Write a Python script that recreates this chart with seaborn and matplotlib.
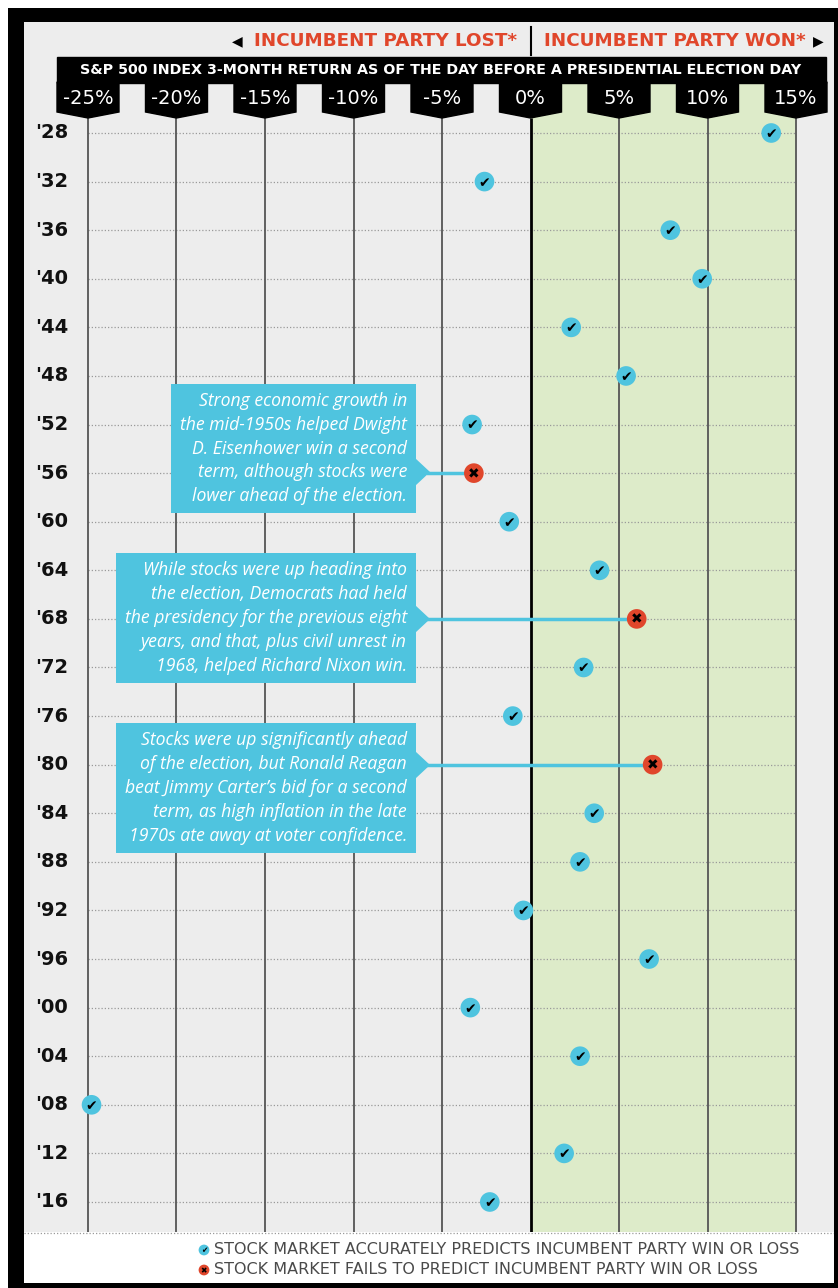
import matplotlib
matplotlib.use("Agg")
import matplotlib.pyplot as plt
from matplotlib.patches import Polygon, Rectangle
import seaborn as sns
import pandas as pd

# Datos
years = ["'28", "'32", "'36", "'40", "'44", "'48", "'52", "'56", "'60", "'64", "'68", "'72",
         "'76", "'80", "'84", "'88", "'92", "'96", "'00", "'04", "'08", "'12", "'16"]
returns = [13.6, -2.6, 7.9, 9.7, 2.3, 5.4, -3.3, -3.2, -1.2, 3.9, 6.0, 3.0,
           -1.0, 6.9, 3.6, 2.8, -0.4, 6.7, -3.4, 2.8, -24.8, 1.9, -2.3]
predicted = ["ok", "ok", "ok", "ok", "ok", "ok", "ok", "fail", "ok", "ok", "fail", "ok",
             "ok", "fail", "ok", "ok", "ok", "ok", "ok", "ok", "ok", "ok", "ok"]
tick_values = [-25, -20, -15, -10, -5, 0, 5, 10, 15]
tick_labels = ["-25%", "-20%", "-15%", "-10%", "-5%", "0%", "5%", "10%", "15%"]
notes = {
    "'56": "Strong economic growth in\nthe mid-1950s helped Dwight\nD. Eisenhower win a second\nterm, although stocks were\nlower ahead of the election.",
    "'68": "While stocks were up heading into\nthe election, Democrats had held\nthe presidency for the previous eight\nyears, and that, plus civil unrest in\n1968, helped Richard Nixon win.",
    "'80": "Stocks were up significantly ahead\nof the election, but Ronald Reagan\nbeat Jimmy Carter\u2019s bid for a second\nterm, as high inflation in the late\n1970s ate away at voter confidence.",
}

df = pd.DataFrame({"year": years, "ret": returns, "status": predicted})
df["row"] = range(len(df))

BLUE = "#4fc4df"
RED = "#e0462b"
GRAY_BG = "#ededed"
GREEN = "#ddebc9"

W, H = 838, 1288
fig = plt.figure(figsize=(W / 100, H / 100), dpi=100)
fig.patch.set_facecolor("white")

# Marco negro
frame = fig.add_axes([8 / W, 0, 1 - 8 / W, 1 - 8 / H])
frame.set_facecolor("black")
frame.set_xticks([]); frame.set_yticks([])
for s in frame.spines.values():
    s.set_visible(False)

ax = fig.add_axes([24 / W, 1 - 1232 / H, (834 - 24) / W, (1232 - 22) / H])
ax.set_facecolor(GRAY_BG)
for s in ax.spines.values():
    s.set_visible(False)

PX_PER_PCT = 17.7
ROW_PX = 48.59


def dx(px):
    return -25 + (px - 88) / PX_PER_PCT


def dy(py):
    return (py - 133) / ROW_PX


ax.set_xlim(dx(24), dx(834))
ax.set_ylim(dy(1232), dy(22))
ax.set_xticks([]); ax.set_yticks([])

# zona verde (ganó el partido)
ax.axvspan(0, 15, ymin=0, ymax=(1232 - 83) / (1232 - 22), color=GREEN, lw=0, zorder=0)

# filas punteadas
ax.hlines(df["row"], tick_values[0], tick_values[-1], colors="#9a9a9a",
          linestyles=(0, (1, 1.6)), lw=0.9, zorder=1)
# lineas verticales
for t in tick_values:
    ax.vlines(t, dy(118), dy(1232), colors="black" if t == 0 else "#555555",
              lw=2 if t == 0 else 1.3, zorder=2)

# cabecera
ax.add_patch(Rectangle((dx(57), dy(57)), dx(826) - dx(57), dy(83) - dy(57),
                       color="black", clip_on=False, zorder=5))
ax.text(dx(441), dy(70), "S&P 500 INDEX 3-MONTH RETURN AS OF THE DAY BEFORE A PRESIDENTIAL ELECTION DAY",
        color="white", fontsize=10.3, fontweight="bold", ha="center", va="center", zorder=6)
half = 31 / PX_PER_PCT
for t, lab in zip(tick_values, tick_labels):
    poly = [(t - half, dy(82)), (t + half, dy(82)), (t + half, dy(112)),
            (t, dy(118)), (t - half, dy(112))]
    ax.add_patch(Polygon(poly, closed=True, color="black", clip_on=False, zorder=5))
    ax.text(t, dy(98), lab, color="white", fontsize=14, ha="center", va="center", zorder=6)

ax.plot([0, 0], [dy(27), dy(55)], color="black", lw=1.5, clip_on=False)
ax.text(dx(517), dy(41), "INCUMBENT PARTY LOST*", color=RED, fontsize=13.2,
        fontweight="bold", ha="right", va="center")
ax.text(dx(237), dy(41), "\u25c0", color="black", fontsize=10, ha="center", va="center")
ax.text(dx(544), dy(41), "INCUMBENT PARTY WON*", color=RED, fontsize=13.2,
        fontweight="bold", ha="left", va="center")
ax.text(dx(818), dy(41), "\u25b6", color="black", fontsize=10, ha="center", va="center")

# etiquetas de año
for _, r in df.iterrows():
    ax.text(dx(52), r["row"], r["year"], fontsize=14, fontweight="bold",
            ha="center", va="center", color="#111111")

# notas
boxes = {"'56": (171, 384, 513, 472), "'68": (116, 553, 683, 619), "'80": (116, 723, 853, 765)}
for yr, txt in notes.items():
    x0, y0, y1, yp = boxes[yr]
    r = df[df["year"] == yr].iloc[0]
    ax.add_patch(Rectangle((dx(x0), dy(y0)), dx(416) - dx(x0), dy(y1) - dy(y0),
                           color=BLUE, lw=0, zorder=7))
    ax.add_patch(Polygon([(dx(415), dy(yp - 14)), (dx(430), dy(yp)), (dx(415), dy(yp + 14))],
                         closed=True, color=BLUE, lw=0, zorder=7))
    ax.plot([dx(428), r["ret"]], [r["row"], r["row"]], color=BLUE, lw=2.5, zorder=7)
    ax.text(dx(407), dy((y0 + y1) / 2), txt, color="white", fontsize=12.7,
            family="Open Sans", style="italic", ha="right", va="center",
            linespacing=1.42, zorder=8)

# puntos
sns.scatterplot(data=df, x="ret", y="row", hue="status", palette={"ok": BLUE, "fail": RED},
                s=200, edgecolor="none", legend=False, ax=ax, zorder=9, clip_on=False)
for _, r in df.iterrows():
    sym = "\u2714" if r["status"] == "ok" else "\u2716"
    ax.text(r["ret"], r["row"] + 0.02, sym, fontsize=10, color="black",
            ha="center", va="center", zorder=10)

ax.set_xlabel(""); ax.set_ylabel("")

# leyenda
leg = fig.add_axes([24 / W, 1 - 1283 / H, (834 - 24) / W, (1283 - 1232) / H])
leg.set_xlim(24, 834); leg.set_ylim(1283, 1232)
leg.set_facecolor("white")
leg.set_xticks([]); leg.set_yticks([])
for s in leg.spines.values():
    s.set_visible(False)
leg.axhline(1232.5, color="#9a9a9a", ls=(0, (1, 1.6)), lw=0.9)
for yy, c, sym, lab in [(1250, BLUE, "\u2714", "STOCK MARKET ACCURATELY PREDICTS INCUMBENT PARTY WIN OR LOSS"),
                        (1270, RED, "\u2716", "STOCK MARKET FAILS TO PREDICT INCUMBENT PARTY WIN OR LOSS")]:
    leg.scatter([204], [yy], s=60, color=c, edgecolor="none")
    leg.text(204, yy + 0.5, sym, fontsize=5.5, ha="center", va="center", color="black")
    leg.text(214, yy, lab, fontsize=11.5, color="#4a4a4a", ha="left", va="center")

fig.savefig("out.png", dpi=100)
